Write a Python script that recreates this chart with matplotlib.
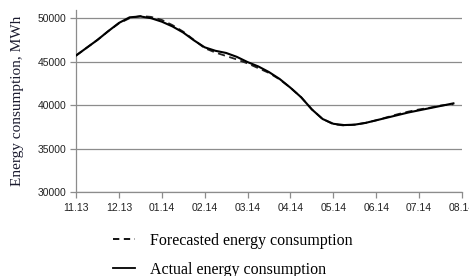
import matplotlib
matplotlib.use("Agg")
import matplotlib.pyplot as plt
from matplotlib.lines import Line2D

# month offsets from 11.13
months = [0, 0.25, 0.5, 0.75, 1, 1.25, 1.5, 1.75, 2, 2.25, 2.5, 2.75, 3, 3.25, 3.5, 3.75,
          4, 4.25, 4.5, 4.75, 5, 5.25, 5.5, 5.75, 6, 6.25, 6.5, 6.75, 7, 7.25, 7.5, 7.75,
          8, 8.25, 8.5, 8.8]
actual = [45700, 46600, 47500, 48500, 49450, 50100, 50200, 50000, 49600, 49050, 48350, 47450,
          46650, 46250, 46000, 45550, 44950, 44450, 43800, 43000, 42000, 40900, 39500, 38400,
          37850, 37700, 37750, 37950, 38250, 38550, 38850, 39150, 39400, 39650, 39900, 40200]
forecast = [45700, 46600, 47500, 48500, 49400, 50000, 50250, 50150, 49800, 49200, 48450, 47500,
            46550, 46050, 45650, 45250, 44800, 44250, 43700, 42950, 42000, 40900, 39500, 38400,
            37800, 37650, 37750, 37950, 38250, 38600, 38950, 39250, 39500, 39700, 39950, 40100]
tick_labels = ["11.13", "12.13", "01.14", "02.14", "03.14", "04.14", "05.14", "06.14", "07.14", "08.14"]
y_ticks = [30000, 35000, 40000, 45000, 50000]

fig = plt.figure(figsize=(4.69, 2.76), dpi=100)
ax = fig.add_axes([76/469, 1-192/276, (462-76)/469, (192-9.5)/276])

ax.plot(months, forecast, color="#222222", lw=1.3, ls=(0, (4, 2.5)), zorder=3)
ax.plot(months, actual, color="black", lw=1.5, zorder=4)

ax.set_xlim(0, 9)
ax.set_ylim(30000, 51000)
ax.set_xticks(range(len(tick_labels)))
ax.set_xticklabels(tick_labels)
ax.set_yticks(y_ticks)
ax.set_yticklabels([str(v) for v in y_ticks])
ax.yaxis.grid(True, color="#8c8c8c", lw=0.9)
ax.set_axisbelow(True)
for s in ["top", "right"]:
    ax.spines[s].set_visible(False)
for s in ["left", "bottom"]:
    ax.spines[s].set_color("#8c8c8c")
    ax.spines[s].set_linewidth(0.9)
ax.tick_params(axis="both", colors="#8c8c8c", length=4, width=0.9, labelsize=7.5,
               labelcolor="#222222", labelfontfamily="Liberation Sans")
ax.tick_params(axis="x", pad=4)
ax.tick_params(axis="y", pad=3)

ax.set_ylabel("Energy consumption, MWh", family="Liberation Serif", fontsize=11,
              color="#1a1a2e", labelpad=10)

handles = [Line2D([], [], color="black", lw=1.3, ls=(0, (3.5, 2.5))),
           Line2D([], [], color="black", lw=1.3)]
fig.legend(handles, ["Forecasted energy consumption", "Actual energy consumption"],
           loc="upper left", bbox_to_anchor=(105/469, 1-225/276), frameon=False,
           prop={"family": "Liberation Serif", "size": 11.5}, handlelength=1.35,
           handletextpad=0.95, labelspacing=0.8, borderpad=0)

fig.savefig("out.png", dpi=100)
